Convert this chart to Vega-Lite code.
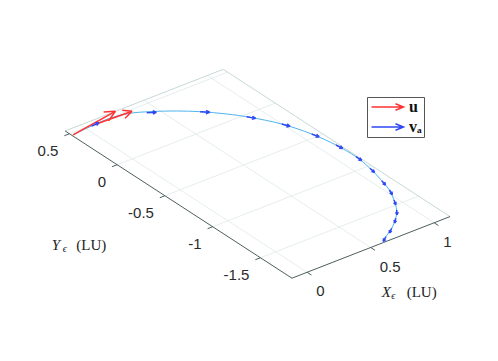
{
  "$schema": "https://vega.github.io/schema/vega-lite/v6.json",
  "width": 498,
  "height": 361,
  "padding": 0,
  "autosize": {"type": "fit", "contains": "padding"},
  "background": "white",
  "config": {"view": {"stroke": null}},
  "datasets": {
    "lines": [
      {"kind": "grid", "X1": 0, "Y1": -1.83, "X2": 0, "Y2": 0.545},
      {"kind": "grid", "X1": 0.5, "Y1": -1.83, "X2": 0.5, "Y2": 0.545},
      {"kind": "grid", "X1": 1, "Y1": -1.83, "X2": 1, "Y2": 0.545},
      {"kind": "grid", "X1": -0.12, "Y1": -1.5, "X2": 1.125, "Y2": -1.5},
      {"kind": "grid", "X1": -0.12, "Y1": -1, "X2": 1.125, "Y2": -1},
      {"kind": "grid", "X1": -0.12, "Y1": -0.5, "X2": 1.125, "Y2": -0.5},
      {"kind": "grid", "X1": -0.12, "Y1": 0, "X2": 1.125, "Y2": 0},
      {"kind": "grid", "X1": -0.12, "Y1": 0.5, "X2": 1.125, "Y2": 0.5},
      {"kind": "box", "X1": -0.12, "Y1": 0.545, "X2": 1.125, "Y2": 0.545},
      {"kind": "box", "X1": 1.125, "Y1": 0.545, "X2": 1.125, "Y2": -1.83},
      {"kind": "axis", "X1": -0.12, "Y1": 0.545, "X2": -0.12, "Y2": -1.83},
      {"kind": "axis", "X1": -0.12, "Y1": -1.83, "X2": 1.125, "Y2": -1.83},
      {"kind": "axis", "X1": 0, "Y1": -1.83, "X2": 0, "Y2": -1.875},
      {"kind": "axis", "X1": 0.5, "Y1": -1.83, "X2": 0.5, "Y2": -1.875},
      {"kind": "axis", "X1": 1, "Y1": -1.83, "X2": 1, "Y2": -1.875},
      {"kind": "axis", "X1": -0.12, "Y1": 0.5, "X2": -0.16, "Y2": 0.5},
      {"kind": "axis", "X1": -0.12, "Y1": 0, "X2": -0.16, "Y2": 0},
      {"kind": "axis", "X1": -0.12, "Y1": -0.5, "X2": -0.16, "Y2": -0.5},
      {"kind": "axis", "X1": -0.12, "Y1": -1, "X2": -0.16, "Y2": -1},
      {"kind": "axis", "X1": -0.12, "Y1": -1.5, "X2": -0.16, "Y2": -1.5}
    ],
    "ticklabels": [
      {"axis": "x", "X": 0, "Y": -1.83, "text": "0"},
      {"axis": "x", "X": 0.5, "Y": -1.83, "text": "0.5"},
      {"axis": "x", "X": 1, "Y": -1.83, "text": "1"},
      {"axis": "y", "X": -0.12, "Y": 0.5, "text": "0.5"},
      {"axis": "y", "X": -0.12, "Y": 0, "text": "0"},
      {"axis": "y", "X": -0.12, "Y": -0.5, "text": "-0.5"},
      {"axis": "y", "X": -0.12, "Y": -1, "text": "-1"},
      {"axis": "y", "X": -0.12, "Y": -1.5, "text": "-1.5"}
    ],
    "titles": [
      {"axis": "x", "X": 0.5, "Y": -1.83},
      {"axis": "y", "X": -0.12, "Y": -0.64}
    ],
    "curve": [
      {"t": 0, "X": -0.11, "Y": 0.475},
      {"t": 1, "X": 0.035, "Y": 0.49},
      {"t": 2, "X": 0.197, "Y": 0.496},
      {"t": 3, "X": 0.333, "Y": 0.468},
      {"t": 4, "X": 0.444, "Y": 0.406},
      {"t": 5, "X": 0.58, "Y": 0.308},
      {"t": 6, "X": 0.69, "Y": 0.209},
      {"t": 7, "X": 0.804, "Y": 0.081},
      {"t": 8, "X": 0.893, "Y": -0.044},
      {"t": 9, "X": 0.998, "Y": -0.236},
      {"t": 10, "X": 1.07, "Y": -0.454},
      {"t": 11, "X": 1.106, "Y": -0.661},
      {"t": 12, "X": 1.116, "Y": -0.857},
      {"t": 13, "X": 1.097, "Y": -1.029},
      {"t": 14, "X": 1.061, "Y": -1.2},
      {"t": 15, "X": 1.028, "Y": -1.324},
      {"t": 16, "X": 0.975, "Y": -1.443},
      {"t": 17, "X": 0.912, "Y": -1.554},
      {"t": 18, "X": 0.845, "Y": -1.634},
      {"t": 19, "X": 0.749, "Y": -1.719},
      {"t": 20, "X": 0.657, "Y": -1.781},
      {"t": 21, "X": 0.599, "Y": -1.831}
    ],
    "arrows": [
      {"series": "u", "X": -0.11, "Y": 0.475, "U": 0.386, "V": 0.071},
      {"series": "u", "X": 0.076, "Y": 0.493, "U": 0.282, "V": -0.013},
      {"series": "v_a", "X": 0.048, "Y": 0.49, "U": 0.06, "V": 0.004},
      {"series": "v_a", "X": 0.42, "Y": 0.408, "U": 0.05, "V": -0.033},
      {"series": "v_a", "X": 0.69, "Y": 0.209, "U": 0.042, "V": -0.043},
      {"series": "v_a", "X": 0.881, "Y": -0.025, "U": 0.031, "V": -0.051},
      {"series": "v_a", "X": 0.998, "Y": -0.236, "U": 0.024, "V": -0.055},
      {"series": "v_a", "X": 1.07, "Y": -0.454, "U": 0.015, "V": -0.058},
      {"series": "v_a", "X": 1.106, "Y": -0.661, "U": 0.007, "V": -0.06},
      {"series": "v_a", "X": 1.116, "Y": -0.857, "U": -0.001, "V": -0.06},
      {"series": "v_a", "X": 1.097, "Y": -1.029, "U": -0.009, "V": -0.059},
      {"series": "v_a", "X": 1.061, "Y": -1.2, "U": -0.014, "V": -0.058},
      {"series": "v_a", "X": 1.028, "Y": -1.324, "U": -0.02, "V": -0.057},
      {"series": "v_a", "X": 0.975, "Y": -1.443, "U": -0.027, "V": -0.054},
      {"series": "v_a", "X": 0.912, "Y": -1.554, "U": -0.034, "V": -0.05},
      {"series": "v_a", "X": 0.845, "Y": -1.634, "U": -0.042, "V": -0.043},
      {"series": "v_a", "X": 0.749, "Y": -1.719, "U": -0.047, "V": -0.038},
      {"series": "v_a", "X": 0.657, "Y": -1.781, "U": -0.048, "V": -0.036}
    ]
  },
  "encoding": {
    "x": {"field": "sx", "type": "quantitative", "scale": {"domain": [0, 498], "nice": false, "zero": false}, "axis": null},
    "y": {"field": "sy", "type": "quantitative", "scale": {"domain": [0, 361], "nice": false, "zero": false, "reverse": true}, "axis": null}
  },
  "layer": [
    {
      "data": {"name": "lines"},
      "transform": [
        {"filter": "datum.kind == 'grid'"},
        {"calculate": "132.4 + 127*datum.X1 - 95.5*datum.Y1", "as": "sx"},
        {"calculate": "158.8 - 49.5*datum.X1 - 62*datum.Y1", "as": "sy"},
        {"calculate": "132.4 + 127*datum.X2 - 95.5*datum.Y2", "as": "sx2"},
        {"calculate": "158.8 - 49.5*datum.X2 - 62*datum.Y2", "as": "sy2"}
      ],
      "mark": {"type": "rule", "color": "#dfe8e8", "strokeWidth": 0.8},
      "encoding": {"x2": {"field": "sx2"}, "y2": {"field": "sy2"}}
    },
    {
      "data": {"name": "lines"},
      "transform": [
        {"filter": "datum.kind == 'box'"},
        {"calculate": "132.4 + 127*datum.X1 - 95.5*datum.Y1", "as": "sx"},
        {"calculate": "158.8 - 49.5*datum.X1 - 62*datum.Y1", "as": "sy"},
        {"calculate": "132.4 + 127*datum.X2 - 95.5*datum.Y2", "as": "sx2"},
        {"calculate": "158.8 - 49.5*datum.X2 - 62*datum.Y2", "as": "sy2"}
      ],
      "mark": {"type": "rule", "color": "#c9d8d8", "strokeWidth": 1},
      "encoding": {"x2": {"field": "sx2"}, "y2": {"field": "sy2"}}
    },
    {
      "data": {"name": "lines"},
      "transform": [
        {"filter": "datum.kind == 'axis'"},
        {"calculate": "132.4 + 127*datum.X1 - 95.5*datum.Y1", "as": "sx"},
        {"calculate": "158.8 - 49.5*datum.X1 - 62*datum.Y1", "as": "sy"},
        {"calculate": "132.4 + 127*datum.X2 - 95.5*datum.Y2", "as": "sx2"},
        {"calculate": "158.8 - 49.5*datum.X2 - 62*datum.Y2", "as": "sy2"}
      ],
      "mark": {"type": "rule", "color": "#4f5e5e", "strokeWidth": 1},
      "encoding": {"x2": {"field": "sx2"}, "y2": {"field": "sy2"}}
    },
    {
      "data": {"name": "ticklabels"},
      "transform": [
        {"filter": "datum.axis == 'x'"},
        {"calculate": "132.4 + 127*datum.X - 95.5*datum.Y", "as": "sx"},
        {"calculate": "158.8 - 49.5*datum.X - 62*datum.Y", "as": "sy"}
      ],
      "mark": {"type": "text", "align": "left", "baseline": "middle", "dx": 9, "dy": 19, "font": "Liberation Sans", "fontSize": 15, "color": "#2b2b2b"},
      "encoding": {"text": {"field": "text"}}
    },
    {
      "data": {"name": "ticklabels"},
      "transform": [
        {"filter": "datum.axis == 'y'"},
        {"calculate": "132.4 + 127*datum.X - 95.5*datum.Y", "as": "sx"},
        {"calculate": "158.8 - 49.5*datum.X - 62*datum.Y", "as": "sy"}
      ],
      "mark": {"type": "text", "align": "right", "baseline": "middle", "dx": -11, "dy": 17, "font": "Liberation Sans", "fontSize": 15, "color": "#2b2b2b"},
      "encoding": {"text": {"field": "text"}}
    },
    {
      "data": {"name": "titles"},
      "transform": [
        {"filter": "datum.axis == 'x'"},
        {"calculate": "132.4 + 127*datum.X - 95.5*datum.Y", "as": "sx"},
        {"calculate": "158.8 - 49.5*datum.X - 62*datum.Y", "as": "sy"}
      ],
      "mark": {"type": "text", "text": "X", "align": "left", "baseline": "middle", "dx": 11, "dy": 44, "font": "Liberation Serif", "fontStyle": "italic", "fontSize": 15, "color": "#222"}
    },
    {
      "data": {"name": "titles"},
      "transform": [
        {"filter": "datum.axis == 'x'"},
        {"calculate": "132.4 + 127*datum.X - 95.5*datum.Y", "as": "sx"},
        {"calculate": "158.8 - 49.5*datum.X - 62*datum.Y", "as": "sy"}
      ],
      "mark": {"type": "text", "text": "ϵ", "align": "left", "baseline": "middle", "dx": 20.5, "dy": 48, "font": "Liberation Serif", "fontStyle": "italic", "fontSize": 10, "color": "#222"}
    },
    {
      "data": {"name": "titles"},
      "transform": [
        {"filter": "datum.axis == 'x'"},
        {"calculate": "132.4 + 127*datum.X - 95.5*datum.Y", "as": "sx"},
        {"calculate": "158.8 - 49.5*datum.X - 62*datum.Y", "as": "sy"}
      ],
      "mark": {"type": "text", "text": "(LU)", "align": "left", "baseline": "middle", "dx": 36, "dy": 44, "font": "Liberation Serif", "fontSize": 15, "color": "#222"}
    },
    {
      "data": {"name": "titles"},
      "transform": [
        {"filter": "datum.axis == 'y'"},
        {"calculate": "132.4 + 127*datum.X - 95.5*datum.Y", "as": "sx"},
        {"calculate": "158.8 - 49.5*datum.X - 62*datum.Y", "as": "sy"}
      ],
      "mark": {"type": "text", "text": "Y", "align": "left", "baseline": "middle", "dx": -126.6, "dy": 40.6, "font": "Liberation Serif", "fontStyle": "italic", "fontSize": 15, "color": "#222"}
    },
    {
      "data": {"name": "titles"},
      "transform": [
        {"filter": "datum.axis == 'y'"},
        {"calculate": "132.4 + 127*datum.X - 95.5*datum.Y", "as": "sx"},
        {"calculate": "158.8 - 49.5*datum.X - 62*datum.Y", "as": "sy"}
      ],
      "mark": {"type": "text", "text": "ϵ", "align": "left", "baseline": "middle", "dx": -115.5, "dy": 44.6, "font": "Liberation Serif", "fontStyle": "italic", "fontSize": 10, "color": "#222"}
    },
    {
      "data": {"name": "titles"},
      "transform": [
        {"filter": "datum.axis == 'y'"},
        {"calculate": "132.4 + 127*datum.X - 95.5*datum.Y", "as": "sx"},
        {"calculate": "158.8 - 49.5*datum.X - 62*datum.Y", "as": "sy"}
      ],
      "mark": {"type": "text", "text": "(LU)", "align": "left", "baseline": "middle", "dx": -102, "dy": 40.6, "font": "Liberation Serif", "fontSize": 15, "color": "#222"}
    },
    {
      "data": {"name": "curve"},
      "transform": [
        {"calculate": "132.4 + 127*datum.X - 95.5*datum.Y", "as": "sx"},
        {"calculate": "158.8 - 49.5*datum.X - 62*datum.Y", "as": "sy"}
      ],
      "mark": {"type": "line", "color": "#4fb4ee", "strokeWidth": 1, "interpolate": "catmull-rom"},
      "encoding": {"order": {"field": "t", "type": "quantitative"}}
    },
    {
      "data": {"name": "arrows"},
      "transform": [
        {"calculate": "132.4 + 127*datum.X - 95.5*datum.Y", "as": "ax1"},
        {"calculate": "158.8 - 49.5*datum.X - 62*datum.Y", "as": "ay1"},
        {"calculate": "datum.ax1 + 127*datum.U - 95.5*datum.V", "as": "ax2"},
        {"calculate": "datum.ay1 - 49.5*datum.U - 62*datum.V", "as": "ay2"},
        {"calculate": "atan2(datum.ay2 - datum.ay1, datum.ax2 - datum.ax1)", "as": "ang"},
        {"calculate": "0.2*sqrt(pow(datum.ax2 - datum.ax1, 2) + pow(datum.ay2 - datum.ay1, 2)) + 2", "as": "hl"},
        {"calculate": "[[datum.ax1, datum.ay1, datum.ax2, datum.ay2], [datum.ax2, datum.ay2, datum.ax2 - datum.hl*cos(datum.ang + 0.45), datum.ay2 - datum.hl*sin(datum.ang + 0.45)], [datum.ax2, datum.ay2, datum.ax2 - datum.hl*cos(datum.ang - 0.45), datum.ay2 - datum.hl*sin(datum.ang - 0.45)]]", "as": "segs"},
        {"flatten": ["segs"]},
        {"calculate": "datum.segs[0]", "as": "sx"},
        {"calculate": "datum.segs[1]", "as": "sy"},
        {"calculate": "datum.segs[2]", "as": "sx2"},
        {"calculate": "datum.segs[3]", "as": "sy2"}
      ],
      "mark": {"type": "rule", "strokeWidth": 1.5},
      "encoding": {
        "x2": {"field": "sx2"},
        "y2": {"field": "sy2"},
        "color": {
          "field": "series",
          "type": "nominal",
          "scale": {"domain": ["u", "v_a"], "range": ["#ff3333", "#2f48f5"]},
          "legend": {
            "title": null,
            "orient": "none",
            "legendX": 367,
            "legendY": 97,
            "padding": 2,
            "rowPadding": 4,
            "symbolType": "M-1.1,0L5.3,0M3.7,-0.65L5.3,0L3.7,0.65",
            "symbolSize": 100,
            "symbolStrokeWidth": 1.5,
            "symbolFillColor": "transparent",
            "labelFont": "Liberation Serif",
            "labelFontSize": 16,
            "labelFontWeight": "bold",
            "labelColor": "#111",
            "labelOffset": 24,
            "labelExpr": "datum.value == 'v_a' ? 'vₐ' : 'u'",
            "strokeColor": "#555",
            "fillColor": "white"
          }
        }
      }
    }
  ]
}
